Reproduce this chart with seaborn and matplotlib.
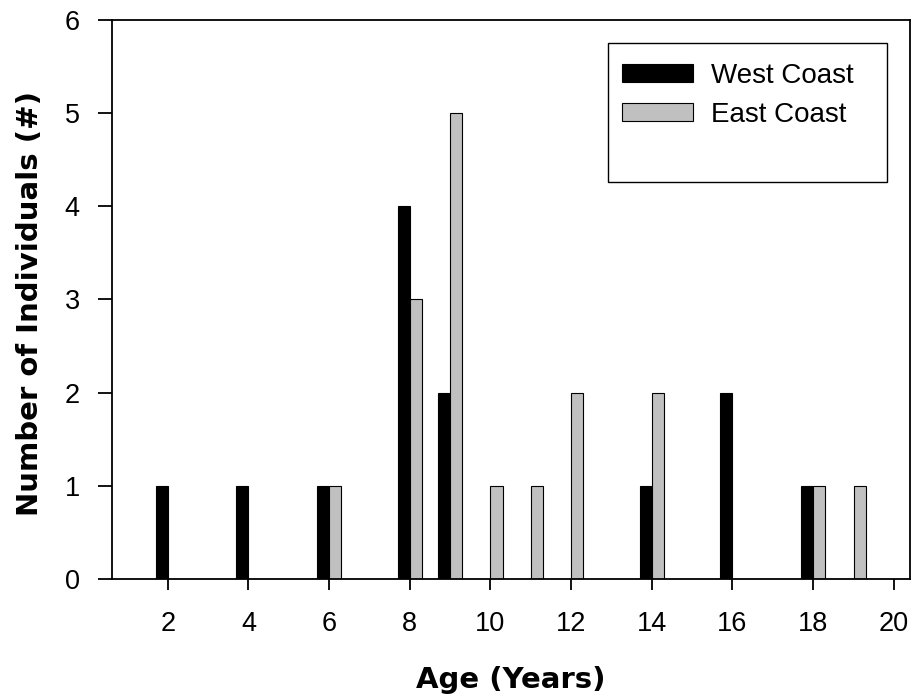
import matplotlib
matplotlib.use("Agg")
import matplotlib.pyplot as plt
from matplotlib.patches import Rectangle
import seaborn as sns
import pandas as pd

# ---- data ----
west_ages = [2, 4, 6, 8, 9, 14, 16, 18]
west_counts = [1, 1, 1, 4, 2, 1, 2, 1]
east_ages = [6, 8, 9, 10, 11, 12, 14, 18, 19]
east_counts = [1, 3, 5, 1, 1, 2, 2, 1, 1]
series_names = ["West Coast", "East Coast"]
x_ticks = [2, 4, 6, 8, 10, 12, 14, 16, 18, 20]
y_ticks = [0, 1, 2, 3, 4, 5, 6]
x_label = "Age (Years)"
y_label = "Number of Individuals (#)"

df = pd.DataFrame({
    "Age": west_ages + east_ages,
    "Count": west_counts + east_counts,
    "Region": [series_names[0]] * len(west_ages) + [series_names[1]] * len(east_ages),
})

sns.set_style("white")
plt.rcParams["font.family"] = ["Liberation Sans", "DejaVu Sans"]
plt.rcParams["text.color"] = "black"
plt.rcParams["axes.labelcolor"] = "black"
plt.rcParams["xtick.color"] = "black"
plt.rcParams["ytick.color"] = "black"

fig = plt.figure(figsize=(9.13, 6.98), dpi=100)
ax = fig.add_axes([0.1223, 0.1701, 0.8744, 0.8017])

sns.barplot(
    data=df, x="Age", y="Count", hue="Region", hue_order=series_names,
    palette={series_names[0]: "black", series_names[1]: "#c0c0c0"},
    native_scale=True, width=0.6, errorbar=None, saturation=1,
    edgecolor="black", linewidth=0.8, legend=False, ax=ax,
)

ax.set_xlim(0.61, 20.40)
ax.set_ylim(0, 6)
ax.set_xticks(x_ticks)
ax.set_xticklabels([str(t) for t in x_ticks])
ax.set_yticks(y_ticks)
ax.set_yticklabels([str(t) for t in y_ticks])

for s in ax.spines.values():
    s.set_visible(True)
    s.set_color("black")
    s.set_linewidth(1.3)

ax.tick_params(axis="x", direction="out", length=8, width=1.3, pad=14.5,
               labelsize=19.5, bottom=True, colors="black")
ax.tick_params(axis="y", direction="out", length=10, width=1.3, pad=13,
               labelsize=19.5, left=True, colors="black")

ax.set_xlabel(x_label, fontfamily="DejaVu Sans", fontweight="bold", fontsize=21, color="black")
ax.set_ylabel(y_label, fontfamily="DejaVu Sans", fontweight="bold", fontsize=21, color="black")
ax.xaxis.set_label_coords(0.5, -0.1546)
ax.yaxis.set_label_coords(-0.0852, 0.4929)

# legend
handles = [c for c in ax.containers]
leg = ax.legend(
    handles, series_names, loc="upper left",
    bbox_to_anchor=(622.3 / 913, 1 - 63 / 698), bbox_transform=fig.transFigure,
    frameon=False, fontsize=20, borderpad=0, borderaxespad=0,
    handlelength=2.55, handleheight=0.63, handletextpad=0.66, labelspacing=0.45,
    labelcolor="black",
)
fig.patches.append(Rectangle((607.7 / 913, 1 - 182 / 698), 279 / 913, 139.3 / 698,
                             transform=fig.transFigure, fill=False,
                             edgecolor="black", linewidth=1.0, zorder=5))

fig.savefig("out.png", dpi=100)
